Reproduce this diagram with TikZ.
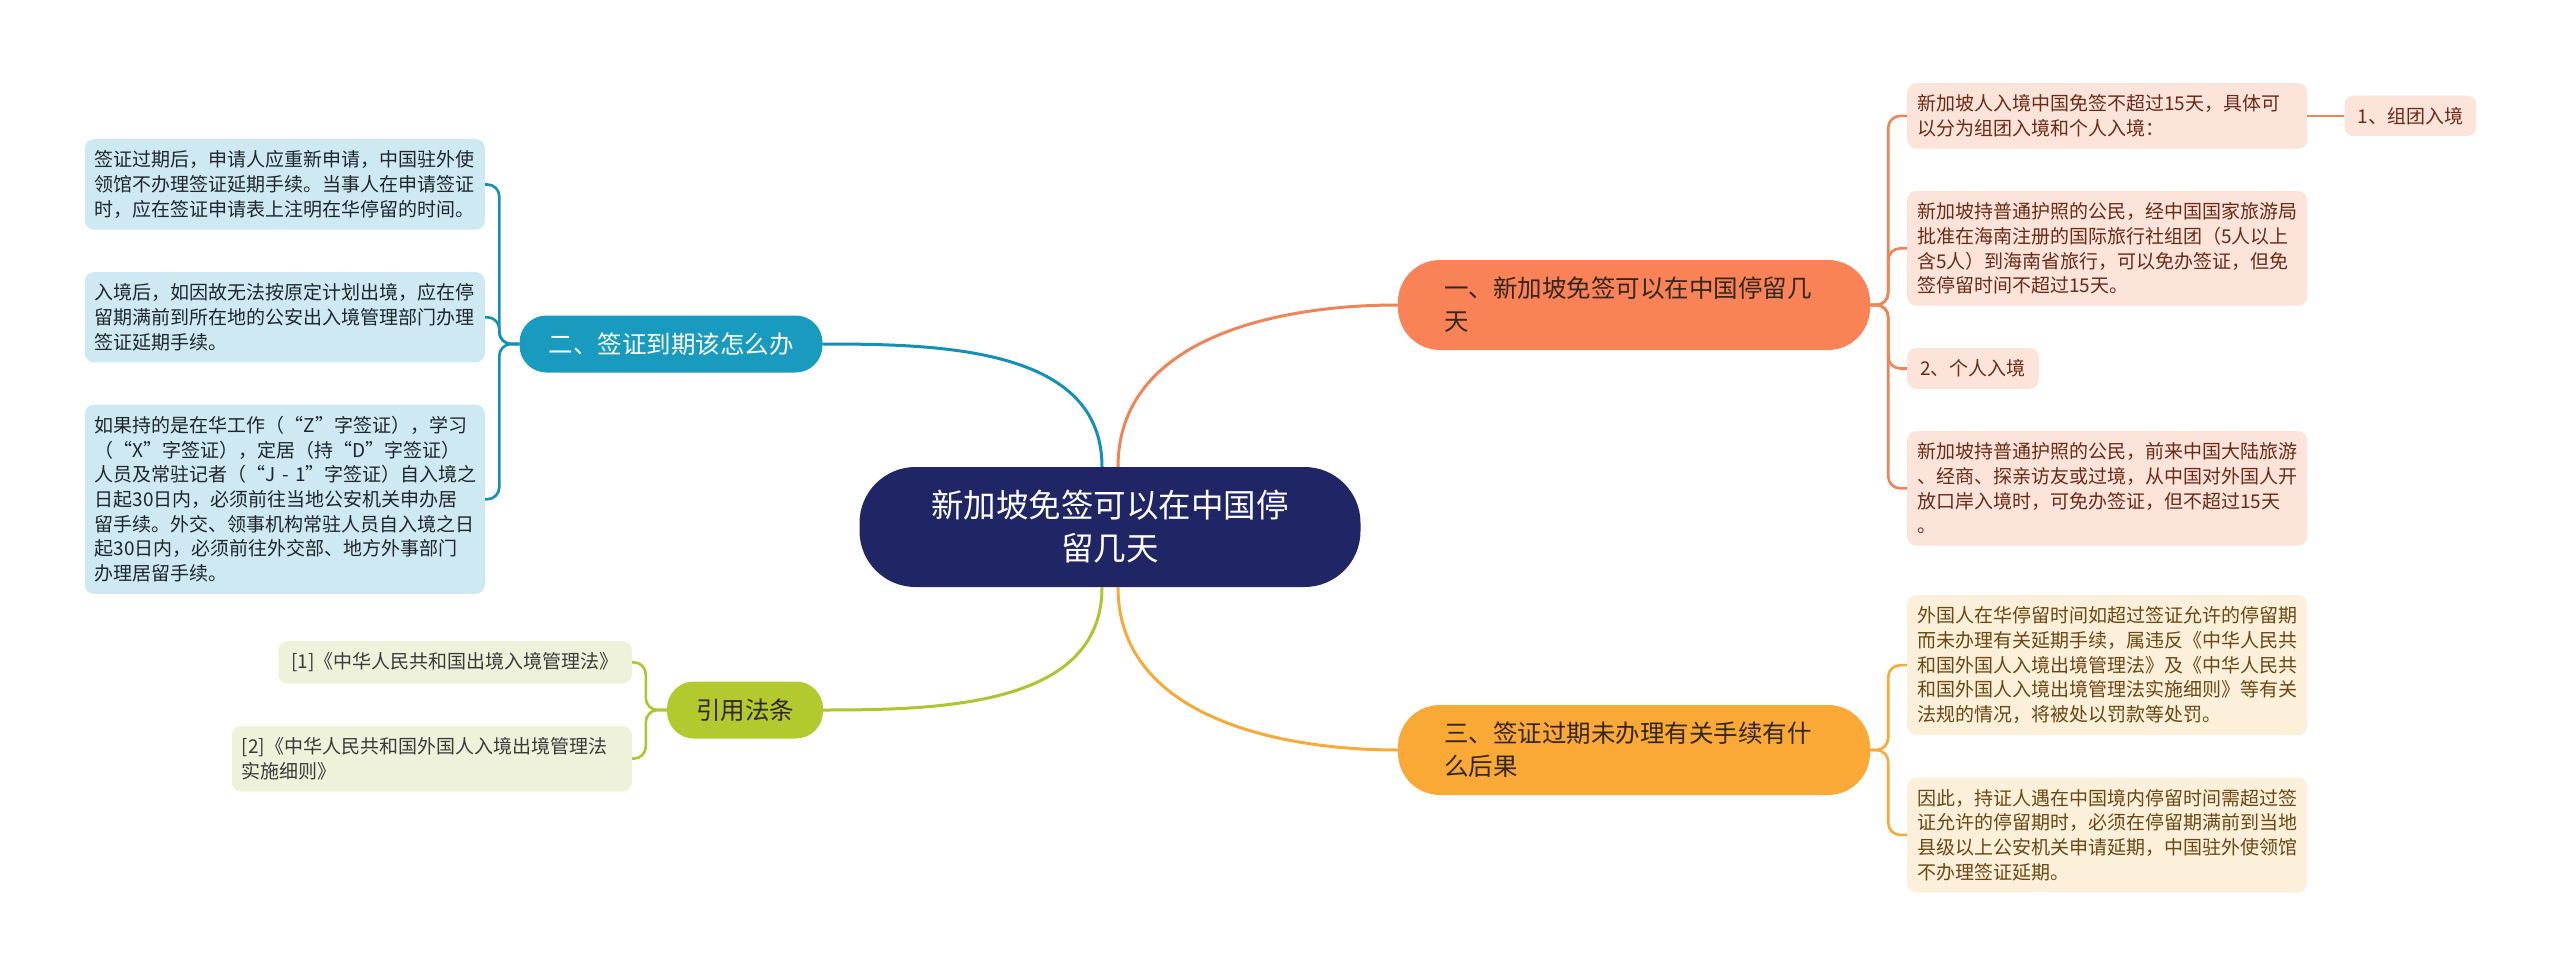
\documentclass[tikz,border=0pt]{standalone}
\usepackage{fontspec}
\setmainfont{Noto Sans CJK SC}
\usetikzlibrary{positioning}

\definecolor{rootfill}{HTML}{202566}
\definecolor{topicink}{HTML}{33261E}
\definecolor{coralfill}{HTML}{F98256}
\definecolor{amberfill}{HTML}{FAA937}
\definecolor{tealfill}{HTML}{189BBF}
\definecolor{limefill}{HTML}{B3CA2E}
\definecolor{peachfill}{HTML}{FDE4DA}
\definecolor{creamfill}{HTML}{FDF0DB}
\definecolor{icefill}{HTML}{CEE9F1}
\definecolor{sagefill}{HTML}{EFF2DA}
\definecolor{peachink}{HTML}{6B2A16}
\definecolor{creamink}{HTML}{6B4712}
\definecolor{iceink}{HTML}{1F262B}
\definecolor{sageink}{HTML}{3A3A3A}
\definecolor{coralline}{HTML}{EF8458}
\definecolor{amberline}{HTML}{F6AA3A}
\definecolor{tealline}{HTML}{1590B5}
\definecolor{limeline}{HTML}{ADC52F}

\begin{document}
\begin{tikzpicture}[x=1pt,y=1pt,node distance=42pt,
    root/.style={fill=rootfill,text=white,rounded corners=56pt,align=center,
        minimum width=501pt,minimum height=120pt,font=\fontsize{32.5}{43}\selectfont},
    topic/.style={rounded corners=27pt,align=center,inner xsep=29pt,
        minimum height=57pt,font=\fontsize{24.5}{33}\selectfont},
    bigtopic/.style={rounded corners=42pt,align=left,text width=380pt,inner xsep=46pt,
        minimum height=90pt,text=topicink,font=\fontsize{24.5}{33}\selectfont},
    leaf/.style={rounded corners=9pt,align=left,inner xsep=13pt,inner ysep=11.5pt,
        font=\fontsize{19}{24.7}\selectfont},
    wide/.style={text width=380pt,inner xsep=10pt},
    peachleaf/.style={leaf,fill=peachfill,text=peachink},
    creamleaf/.style={leaf,fill=creamfill,text=creamink},
    iceleaf/.style={leaf,fill=icefill,text=iceink},
    sageleaf/.style={leaf,fill=sagefill,text=sageink},
    branch/.style={line width=3pt},
    link/.style={line width=2.6pt,rounded corners=12pt}]

    \useasboundingbox (0,0) rectangle (2560,-977);

    \node[root] (root) at (1110,-527) {新加坡免签可以在中国停\\留几天};

    \node[bigtopic,fill=coralfill] (t1) at (1634,-305) {一、新加坡免签可以在中国停留几\\天};
    \node[bigtopic,fill=amberfill] (t3) at (1634,-750) {三、签证过期未办理有关手续有什\\么后果};
    \node[topic,fill=tealfill,text=white] (t2) at (671,-344) {二、签证到期该怎么办};
    \node[topic,fill=limefill,text=topicink] (t4) at (745,-710) {引用法条};

    % right, first topic
    \node[peachleaf,wide,anchor=north west] (p1) at (1907,-83)
        {新加坡人入境中国免签不超过15天，具体可\\以分为组团入境和个人入境：};
    \node[peachleaf,right=37pt of p1] (p1a) {1、组团入境};
    \node[peachleaf,wide,below=of p1.south west,anchor=north west] (p2)
        {新加坡持普通护照的公民，经中国国家旅游局\\批准在海南注册的国际旅行社组团（5人以上\\含5人）到海南省旅行，可以免办签证，但免\\签停留时间不超过15天。};
    \node[peachleaf,below=of p2.south west,anchor=north west] (p3) {2、个人入境};
    \node[peachleaf,wide,below=of p3.south west,anchor=north west] (p4)
        {新加坡持普通护照的公民，前来中国大陆旅游\\、经商、探亲访友或过境，从中国对外国人开\\放口岸入境时，可免办签证，但不超过15天\\。};

    % right, third topic
    \node[creamleaf,wide,anchor=north west] (y1) at (1907,-595)
        {外国人在华停留时间如超过签证允许的停留期\\而未办理有关延期手续，属违反《中华人民共\\和国外国人入境出境管理法》及《中华人民共\\和国外国人入境出境管理法实施细则》等有关\\法规的情况，将被处以罚款等处罚。};
    \node[creamleaf,wide,below=of y1.south west,anchor=north west] (y2)
        {因此，持证人遇在中国境内停留时间需超过签\\证允许的停留期时，必须在停留期满前到当地\\县级以上公安机关申请延期，中国驻外使领馆\\不办理签证延期。};

    % left, second topic
    \node[iceleaf,wide,anchor=north east] (l1) at (485,-139)
        {签证过期后，申请人应重新申请，中国驻外使\\领馆不办理签证延期手续。当事人在申请签证\\时，应在签证申请表上注明在华停留的时间。};
    \node[iceleaf,wide,below=of l1.south east,anchor=north east] (l2)
        {入境后，如因故无法按原定计划出境，应在停\\留期满前到所在地的公安出入境管理部门办理\\签证延期手续。};
    \node[iceleaf,wide,below=of l2.south east,anchor=north east] (l3)
        {如果持的是在华工作（“Z”字签证），学习\\（“X”字签证），定居（持“D”字签证）\\\mbox{人员及常驻记者（“J - 1”字签证）自入境之}\\日起30日内，必须前往当地公安机关申办居\\留手续。外交、领事机构常驻人员自入境之日\\起30日内，必须前往外交部、地方外事部门\\办理居留手续。};

    % left, references
    \node[sageleaf,anchor=north east] (r1) at (632,-641) {[1]《中华人民共和国出境入境管理法》};
    \node[sageleaf,wide,below=of r1.south east,anchor=north east] (r2)
        {[2]《中华人民共和国外国人入境出境管理法\\实施细则》};

    \draw[branch,coralline] ([xshift=8pt]root.north) to[out=90,in=180] (t1.west);
    \draw[branch,tealline] ([xshift=-8pt]root.north) to[out=90,in=0] (t2.east);
    \draw[branch,amberline] ([xshift=8pt]root.south) to[out=-90,in=180] (t3.west);
    \draw[branch,limeline] ([xshift=-8pt]root.south) to[out=-90,in=0] (t4.east);

    \foreach \kid in {p1,p2,p3,p4}
        \draw[link,coralline] (t1.east) -- ++(18,0) |- (\kid.west);
    \draw[link,coralline] (p1) -- (p1a);

    \foreach \kid in {y1,y2}
        \draw[link,amberline] (t3.east) -- ++(18,0) |- (\kid.west);

    \foreach \kid in {l1,l2,l3}
        \draw[link,tealline] (t2.west) -- ++(-20,0) |- (\kid.east);

    \foreach \kid in {r1,r2}
        \draw[link,limeline] (t4.west) -- ++(-21,0) |- (\kid.east);

\end{tikzpicture}
\end{document}
